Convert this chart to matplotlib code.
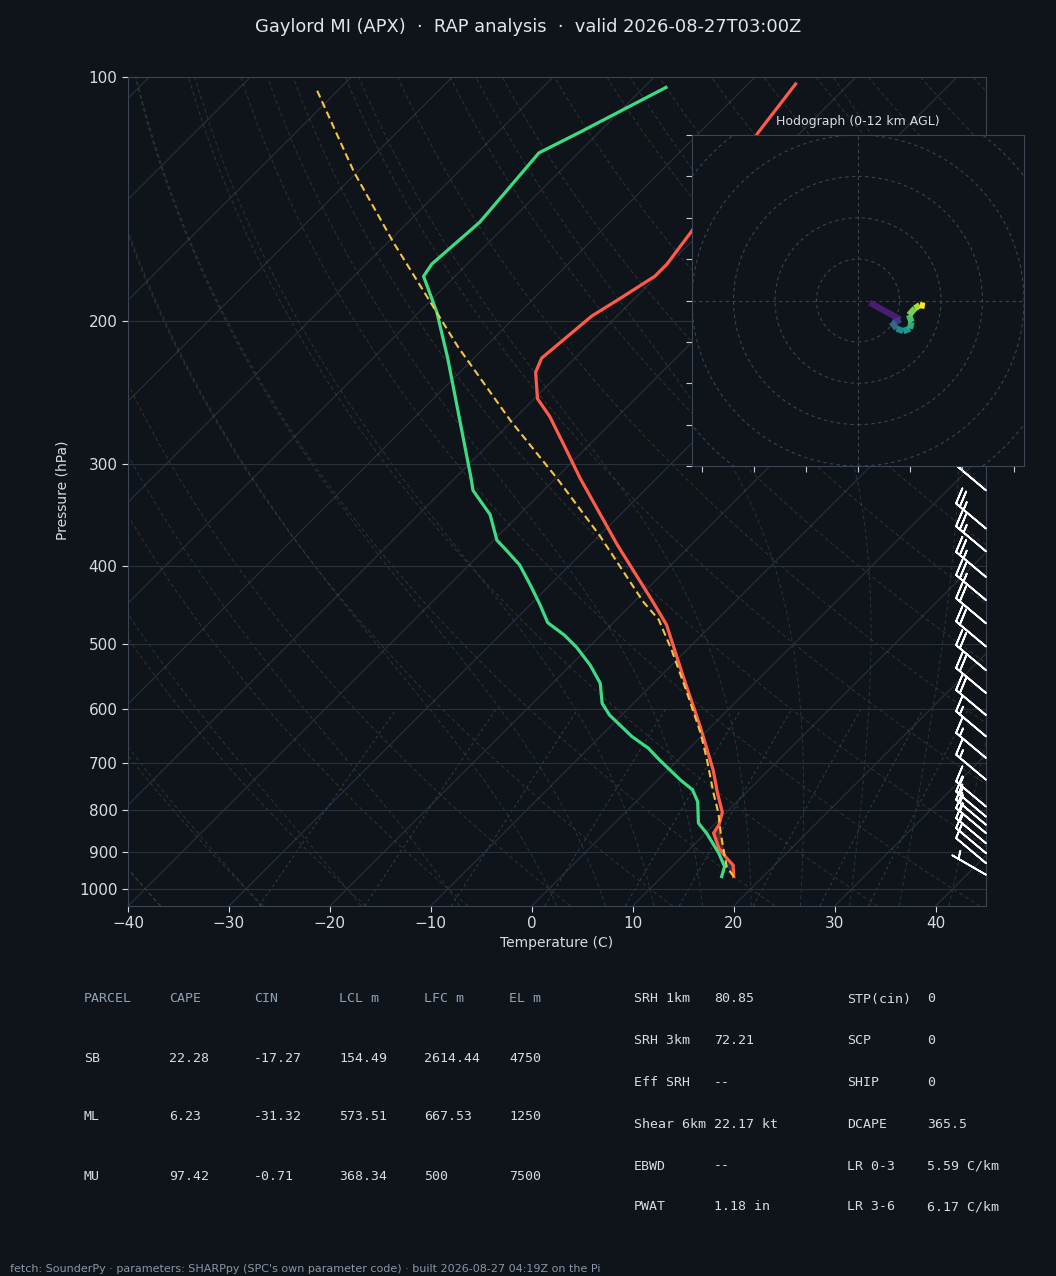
import numpy as np
import matplotlib
matplotlib.use('Agg')
import matplotlib.pyplot as plt
from matplotlib.transforms import Affine2D
from matplotlib.collections import LineCollection
from matplotlib.patches import Circle, Polygon

BG = '#0f131a'
GRID = '#29313c'
SPINE = '#3a4452'
TXT = '#d8dce1'
HEAD = '#8fa2b6'

# sounding (hPa, degC)
p_temp = [966, 935, 913, 891, 854, 834, 805, 762, 714, 631, 548, 473, 441, 377,
          312, 285, 262, 249, 231, 222, 197, 188, 176, 170, 155, 135, 117, 102]
t_temp = [17.1, 15.9, 14.3, 12.8, 10.8, 10.5, 9.6, 7.2, 4.5, -1.1, -7.7, -14.5, -18.4, -27.3,
          -37.6, -42.3, -46.7, -49.7, -52.5, -53.3, -52.5, -51.5, -50.2, -50.2, -51.0, -52.5, -54.2, -55.3]

p_dew = [966, 939, 904, 854, 830, 781, 755, 734, 694, 671, 649, 611, 591, 558, 530, 504, 487,
         470, 447, 422, 399, 382, 372, 346, 323, 312, 222, 195, 176, 170, 151, 145, 124, 117, 103]
t_dew = [15.9, 15.2, 13.3, 10.1, 8.3, 6.1, 4.4, 2.2, -1.8, -4.1, -6.9, -11.2, -13.1, -15.3, -18.1, -21.2, -23.6,
         -26.5, -29.0, -32.0, -35.0, -37.9, -39.7, -42.9, -47.0, -48.4, -62.6, -68.2, -73.1, -73.5, -72.9, -73.1, -73.9, -71.9, -67.8]

p_parcel = [966, 939, 854, 807, 762, 694, 643, 574, 508, 466, 443, 367, 312, 265, 215, 183, 160, 131, 103]
t_parcel = [17.1, 15.4, 11.5, 9.3, 6.8, 2.9, -0.4, -5.7, -11.5, -15.8, -19.1, -30.0, -39.9, -50.2,
            -62.7, -71.8, -79.4, -90.3, -102.5]

# winds (kt)
p_barb = [323, 360, 384, 413, 441, 471, 503, 538, 574, 611, 649, 690, 734, 792, 815, 834, 854, 879, 904, 930, 961]
spd_barb = [20, 25, 25, 25, 25, 20, 20, 20, 20, 20, 15, 15, 15, 15, 15, 15, 15, 15, 10, 10, 5]
dir_barb = [310, 310, 310, 310, 310, 310, 310, 310, 310, 310, 310, 310, 310, 310, 310, 310, 310, 310, 310, 310, 300]

# hodograph
hodo_u = [2.8, 10.2, 8.6, 8.1, 9.3, 10.9, 12.5, 12.9, 12.3, 13.7, 14.9, 16.1]
hodo_v = [-0.5, -4.6, -5.4, -5.2, -6.8, -7.4, -6.8, -5.2, -3.5, -1.9, -1.1, -1.3]
hodo_z = [0, 1, 2, 2.5, 4, 5.5, 6.5, 7.5, 8.5, 9.5, 10.5, 12]

# parameter tables
parcel_head = ['PARCEL', 'CAPE', 'CIN', 'LCL m', 'LFC m', 'EL m']
parcel_rows = [['SB', '22.28', '-17.27', '154.49', '2614.44', '4750'],
               ['ML', '6.23', '-31.32', '573.51', '667.53', '1250'],
               ['MU', '97.42', '-0.71', '368.34', '500', '7500']]
kin_names = ['SRH 1km', 'SRH 3km', 'Eff SRH', 'Shear 6km', 'EBWD', 'PWAT']
kin_vals = ['80.85', '72.21', '--', '22.17 kt', '--', '1.18 in']
thermo_names = ['STP(cin)', 'SCP', 'SHIP', 'DCAPE', 'LR 0-3', 'LR 3-6']
thermo_vals = ['0', '0', '0', '365.5', '5.59 C/km', '6.17 C/km']

W, H = 1056, 1276
fig = plt.figure(figsize=(W / 100, H / 100), dpi=100, facecolor=BG)

# main skew-T axes
L, R, T_, B = 128, 986, 77, 906
ax = fig.add_axes([L / W, 1 - B / H, (R - L) / W, (B - T_) / H])
ax.set_facecolor(BG)
ax.set_yscale('log')
ax.set_xlim(-40, 45)
ax.set_ylim(1050, 100)
ax.set_autoscale_on(False)
k = (B - T_) / (R - L)
skew = ax.transScale + ax.transLimits + Affine2D(np.array([[1, k, 0], [0, 1, 0], [0, 0, 1]])) + ax.transAxes

pg = np.geomspace(1050, 100, 120)

# isotherms
for t in range(-130, 50, 10):
    ax.plot([t, t], [1050, 100], color=GRID, lw=0.8, transform=skew, zorder=1)

# dry adiabats
for th in range(-40, 250, 10):
    tt = (th + 273.15) * (pg / 1000.0) ** 0.2857 - 273.15
    ax.plot(tt, pg, color='#6a5738', lw=0.7, ls=(0, (4, 3)), alpha=0.45, transform=skew, zorder=1)

# moist adiabats
Rd, Cp, Lv, eps = 287.04, 1005.7, 2.501e6, 0.622


def dtdp(t, p):
    es = 6.112 * np.exp(17.67 * (t - 273.15) / (t - 29.65))
    rs = eps * es / (p - es)
    return (Rd * t + Lv * rs) / (p * (Cp + Lv * Lv * rs * eps / (Rd * t * t)))


def integrate(t0, ps):
    out = [t0]
    for i in range(1, len(ps)):
        dp = ps[i] - ps[i - 1]
        t = out[-1]
        k1 = dtdp(t, ps[i - 1])
        k2 = dtdp(t + k1 * dp, ps[i])
        out.append(t + 0.5 * (k1 + k2) * dp)
    return np.array(out)


t0s = np.concatenate((np.arange(-40, 0, 10), np.arange(0, 46, 5))) + 273.15
up = np.geomspace(1000, 100, 200)
dn = np.linspace(1000, 1050, 10)
tu = integrate(t0s, up)
td = integrate(t0s, dn)
pm = np.concatenate((dn[::-1], up[1:]))
tm = np.concatenate((td[::-1], tu[1:])) - 273.15
for j in range(len(t0s)):
    ax.plot(tm[:, j], pm, color='#3a5866', lw=0.7, ls=(0, (4, 3)), alpha=0.5, transform=skew, zorder=1)

# mixing ratio lines
pmix = np.linspace(1050, 600, 30)
for w in [0.4, 1, 2, 4, 7, 10, 16, 24, 32]:
    e = pmix * (w / 1000) / (eps + w / 1000)
    lg = np.log(e / 6.112)
    tdw = 243.5 * lg / (17.67 - lg)
    ax.plot(tdw, pmix, color='#3b5269', lw=0.7, ls=(0, (3, 3)), alpha=0.7, transform=skew, zorder=1)

# CAPE / CIN shading
cin = Polygon(np.column_stack([[17.1, 15.9, 14.3, 15.4], [966, 935, 913, 939]]), closed=True,
              facecolor='#3b6fd1', alpha=0.3, edgecolor='none', transform=skew, zorder=2)
cape = Polygon(np.column_stack([[14.3, 12.8, 10.8, 10.5, 11.5], [913, 891, 854, 834, 854]]), closed=True,
               facecolor='#d9573b', alpha=0.35, edgecolor='none', transform=skew, zorder=2)
ax.add_patch(cin)
ax.add_patch(cape)

# profiles
ax.plot(t_temp, p_temp, color='#ff5b4a', lw=2.3, transform=skew, zorder=4)
ax.plot(t_dew, p_dew, color='#3ddc84', lw=2.3, transform=skew, zorder=4)
ax.plot(t_parcel, p_parcel, color='#f4c542', lw=1.5, ls=(0, (3.5, 2)), transform=skew, zorder=4)

# wind barbs on right edge
wd = np.deg2rad(dir_barb)
ub = -np.array(spd_barb) * np.sin(wd)
vb = -np.array(spd_barb) * np.cos(wd)
ax.barbs(np.ones(len(p_barb)), p_barb, ub, vb, transform=ax.get_yaxis_transform(),
         color='white', length=7.5, linewidth=1.3, clip_on=False, zorder=5)

ax.yaxis.grid(True, color=GRID, lw=0.8)
ax.set_yticks([100, 200, 300, 400, 500, 600, 700, 800, 900, 1000])
ax.set_yticklabels(['100', '200', '300', '400', '500', '600', '700', '800', '900', '1000'])
ax.yaxis.set_minor_locator(matplotlib.ticker.NullLocator())
ax.set_xticks(range(-40, 41, 10))
ax.tick_params(colors=TXT, labelsize=11, length=4, width=0.8)
for s in ax.spines.values():
    s.set_color(SPINE)
ax.set_xlabel('Temperature (C)', color=TXT, fontsize=10)
ax.set_ylabel('Pressure (hPa)', color=TXT, fontsize=10)
ax.xaxis.set_label_coords(0.5, -0.0446)
ax.xaxis.label.set_va('center')
ax.yaxis.set_label_coords(-0.0758, 0.502)
ax.yaxis.label.set_va('center')

# hodograph inset
hx0, hy0, hx1, hy1 = 692, 135, 1024, 466
hax = fig.add_axes([hx0 / W, 1 - hy1 / H, (hx1 - hx0) / W, (hy1 - hy0) / H])
hax.set_facecolor(BG)
hax.set_xlim(-40, 40)
hax.set_ylim(-40, 40)
for r in range(10, 60, 10):
    hax.add_patch(Circle((0, 0), r, fill=False, ec=SPINE, lw=0.8, ls=(0, (3, 3))))
hax.axhline(0, color=SPINE, lw=0.8, ls=(0, (3, 3)))
hax.axvline(0, color=SPINE, lw=0.8, ls=(0, (3, 3)))
pts = np.column_stack([hodo_u, hodo_v]).reshape(-1, 1, 2)
segs = np.concatenate([pts[:-1], pts[1:]], axis=1)
lc = LineCollection(segs, cmap='viridis', linewidths=4.5)
lc.set_array(np.array(hodo_z[1:]))
lc.set_clim(0, 12)
hax.add_collection(lc)
hax.set_xticks([-37.5, -25, -12.5, 0, 12.5, 25, 37.5])
hax.set_yticks(range(-40, 41, 10))
hax.set_xticklabels([])
hax.set_yticklabels([])
hax.tick_params(colors='#c8ccd2', length=4, width=0.8)
for s in hax.spines.values():
    s.set_color(SPINE)
hax.set_title('Hodograph (0-12 km AGL)', color=TXT, fontsize=9, pad=7)

# title
fig.text(0.5, 1 - 27 / H, 'Gaylord MI (APX)  \u00b7  RAP analysis  \u00b7  valid 2026-08-27T03:00Z',
         ha='center', va='center', color='#e2e5e9', fontsize=12.9)

# tables
mono = 'DejaVu Sans Mono'
cols = [84, 169, 254, 339, 424, 509]
for c, h in zip(cols, parcel_head):
    fig.text(c / W, 1 - 999 / H, h, color=HEAD, fontsize=9.5, family=mono, va='center')
for r, row in enumerate(parcel_rows):
    y = 1058 + 59 * r
    for c, v in zip(cols, row):
        fig.text(c / W, 1 - y / H, v, color=TXT, fontsize=9.5, family=mono, va='center')

rows_y = [999, 1041, 1083, 1124, 1166, 1207]
for y, n, v in zip(rows_y, kin_names, kin_vals):
    fig.text(634 / W, 1 - y / H, n, color=TXT, fontsize=9.5, family=mono, va='center')
    fig.text(714 / W, 1 - y / H, v, color=TXT, fontsize=9.5, family=mono, va='center')
for y, n, v in zip(rows_y, thermo_names, thermo_vals):
    fig.text(847 / W, 1 - y / H, n, color=TXT, fontsize=9.5, family=mono, va='center')
    fig.text(927 / W, 1 - y / H, v, color=TXT, fontsize=9.5, family=mono, va='center')

fig.text(10 / W, 1 - 1269 / H,
         "fetch: SounderPy \u00b7 parameters: SHARPpy (SPC's own parameter code) \u00b7 built 2026-08-27 04:19Z on the Pi",
         color='#8a96a6', fontsize=8, va='center')

fig.savefig('out.png', dpi=100, facecolor=BG)
